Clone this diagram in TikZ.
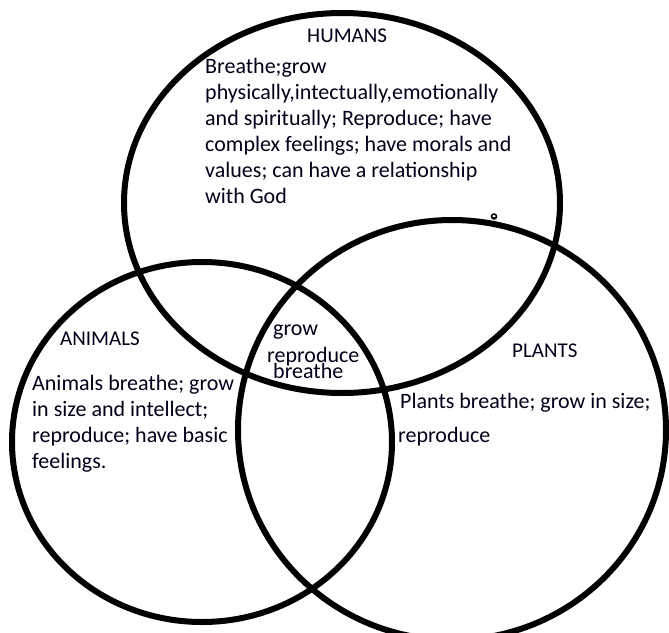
\documentclass[tikz,border=0pt]{standalone}
\usepackage{fontspec}
\setmainfont{Carlito}
\begin{document}
\begin{tikzpicture}[x=1pt,y=-1pt,
  ring/.style={draw=black,line width=6pt},
  label/.style={inner sep=0pt,anchor=base west,text=black!90!blue,font=\fontsize{21}{26}\selectfont},
  body/.style={inner sep=0pt,anchor=base west,align=left,text=black!90!blue,font=\fontsize{22}{26}\selectfont}]
\useasboundingbox (0,0) rectangle (669,632);
\clip (0,0) rectangle (669,632);
\fill[white] (0,0) rectangle (669,632);
% circles
\draw[ring] (342,203) ellipse [x radius=218, y radius=190];
\draw[ring] (202,442) ellipse [x radius=190, y radius=180];
\draw[ring] (452,430) ellipse [x radius=214, y radius=210];
% small mark
\draw[line width=1.5pt] (494,216.5) circle [radius=2.5];
\draw[line width=1pt] (491,217.5) -- (497,217.5);
% labels
\node[label] (humans) at (307,42) {HUMANS};
\node[body] (htext) at (205,203) {Breathe;grow\\physically,intectually,emotionally\\and spiritually; Reproduce; have\\complex feelings; have morals and\\values; can have a relationship\\with God};
\node[label] (animals) at (60,345) {ANIMALS};
\node[body] (atext) at (32,468) {Animals breathe; grow\\in size and intellect;\\reproduce; have basic\\feelings.};
\node[label] (plants) at (512,357) {PLANTS};
\node[body] (ptext) at (400,408) {Plants breathe; grow in size;};
\node[body] (ptext2) at (398,442) {reproduce};
\node[body] (grow) at (273,335) {grow};
\node[body] (repro) at (267,362) {reproduce};
\node[body] (breathe) at (273,378) {breathe};
\end{tikzpicture}
\end{document}
